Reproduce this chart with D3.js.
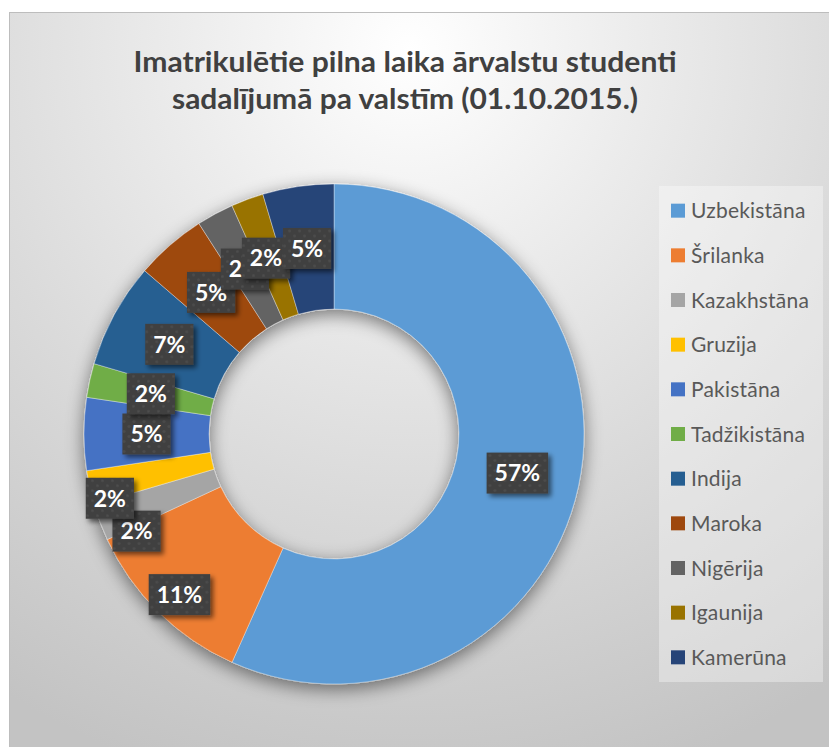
<!DOCTYPE html>
<html>
<head>
<meta charset="utf-8">
<script src="https://cdn.jsdelivr.net/npm/d3@7"></script>
<style>
  html, body { margin: 0; padding: 0; background: #fff; }
  svg { display: block; }
</style>
</head>
<body>
<svg id="area" width="829" height="747"></svg>
<script>
// countries in the order Excel draws them (clockwise from 12 o'clock)
const countries = ['Uzbekistāna', 'Šrilanka', 'Kazakhstāna', 'Gruzija', 'Pakistāna',
  'Tadžikistāna', 'Indija', 'Maroka', 'Nigērija', 'Igaunija', 'Kamerūna'];
// share of students, %
const shares = [56.8, 11.4, 2.4, 2.2, 4.7, 2.2, 6.8, 4.6, 2.4, 2.1, 4.6];
const colors = ['#5B9BD5', '#ED7D31', '#A5A5A5', '#FFC000', '#4472C4', '#70AD47',
  '#255E91', '#9E480E', '#636363', '#997300', '#264478'];
const titleLines = ['Imatrikulētie pilna laika ārvalstu studenti',
  'sadalījumā pa valstīm (01.10.2015.)'];

// labels Excel pushed away from the slice centre to avoid overlaps
const labelNudge = { 'Šrilanka': [-23, 27], 'Kazakhstāna': [-22, 31], 'Gruzija': [-41, 24], 'Igaunija': [-3, 0] };

const svg = d3.select('#area');
const W = 829;
const H = 747;
const cx = 334;
const cy = 434;
const outerR = 250;
const innerR = 125;

const defs = svg.append('defs');

const bg = defs.append('radialGradient')
  .attr('id', 'bg')
  .attr('gradientUnits', 'userSpaceOnUse')
  .attr('cx', 410).attr('cy', 50).attr('r', 760);
bg.append('stop').attr('offset', 0).attr('stop-color', '#ffffff');
bg.append('stop').attr('offset', 0.3).attr('stop-color', '#ececec');
bg.append('stop').attr('offset', 0.6).attr('stop-color', '#dadada');
bg.append('stop').attr('offset', 1).attr('stop-color', '#c3c3c3');

const ringShadow = defs.append('filter').attr('id', 'ringShadow')
  .attr('x', '-20%').attr('y', '-20%').attr('width', '140%').attr('height', '140%');
ringShadow.append('feGaussianBlur').attr('in', 'SourceAlpha').attr('stdDeviation', 9);
ringShadow.append('feOffset').attr('dx', 0).attr('dy', 5).attr('result', 'off');
ringShadow.append('feComponentTransfer').append('feFuncA').attr('type', 'linear').attr('slope', 0.5);
const rm = ringShadow.append('feMerge');
rm.append('feMergeNode');
rm.append('feMergeNode').attr('in', 'SourceGraphic');

const boxShadow = defs.append('filter').attr('id', 'boxShadow')
  .attr('x', '-30%').attr('y', '-30%').attr('width', '170%').attr('height', '170%');
boxShadow.append('feGaussianBlur').attr('in', 'SourceAlpha').attr('stdDeviation', 2.5);
boxShadow.append('feOffset').attr('dx', 3).attr('dy', 3);
boxShadow.append('feComponentTransfer').append('feFuncA').attr('type', 'linear').attr('slope', 0.55);
const bm = boxShadow.append('feMerge');
bm.append('feMergeNode');
bm.append('feMergeNode').attr('in', 'SourceGraphic');

const dots = defs.append('pattern').attr('id', 'dots')
  .attr('patternUnits', 'userSpaceOnUse').attr('width', 10).attr('height', 10);
dots.append('rect').attr('width', 10).attr('height', 10).attr('fill', '#404040');
dots.append('circle').attr('cx', 2.5).attr('cy', 2.5).attr('r', 1.3).attr('fill', '#4e4e4e');
dots.append('circle').attr('cx', 7.5).attr('cy', 7.5).attr('r', 1.3).attr('fill', '#4e4e4e');

// chart area
svg.append('rect')
  .attr('x', 9.5).attr('y', 12.5)
  .attr('width', W).attr('height', H)
  .attr('fill', 'url(#bg)')
  .attr('stroke', '#bdbdbd');

// title
svg.append('g')
  .attr('font-family', 'Lato, sans-serif')
  .attr('font-weight', 'bold')
  .attr('font-size', 28)
  .attr('fill', '#404040')
  .attr('text-anchor', 'middle')
  .selectAll('text')
  .data(titleLines)
  .join('text')
  .attr('x', 405)
  .attr('y', (d, i) => 72 + i * 37)
  .attr('textLength', (d, i) => (i === 0 ? 543 : 466))
  .attr('lengthAdjust', 'spacingAndGlyphs')
  .text((d) => d);

// donut
const pie = d3.pie().sort(null).value((d) => d)(shares);
const arc = d3.arc().innerRadius(innerR).outerRadius(outerR);

const ring = svg.append('g')
  .attr('transform', `translate(${cx},${cy})`);

ring.append('g')
  .attr('filter', 'url(#ringShadow)')
  .selectAll('path')
  .data(pie)
  .join('path')
  .attr('d', arc)
  .attr('fill', (d, i) => colors[i])
  .attr('stroke', 'rgba(255,255,255,0.45)')
  .attr('stroke-width', 0.8);

// data labels
const total = d3.sum(shares);
const labels = ring.append('g')
  .selectAll('g')
  .data(pie)
  .join('g')
  .attr('transform', (d, i) => {
    const [x, y] = arc.centroid(d);
    const [nx, ny] = labelNudge[countries[i]] || [0, 0];
    return `translate(${x + nx},${y + ny})`;
  });

labels.append('rect')
  .attr('filter', 'url(#boxShadow)')
  .attr('fill', 'url(#dots)');

labels.append('text')
  .attr('font-family', 'Lato, sans-serif')
  .attr('font-weight', 'bold')
  .attr('font-size', 23)
  .attr('fill', '#ffffff')
  .attr('text-anchor', 'middle')
  .attr('dy', '0.36em')
  .text((d) => `${Math.round((d.value / total) * 100)}%`);

labels.each(function () {
  const g = d3.select(this);
  const bb = g.select('text').node().getBBox();
  g.select('rect')
    .attr('x', -(bb.width + 16) / 2)
    .attr('y', -20.5)
    .attr('width', bb.width + 16)
    .attr('height', 41);
});

// legend
const legendX = 659;
const legendY = 186;
const row = d3.scaleBand()
  .domain(countries)
  .range([legendY + 1, 682 - 1])
  .paddingOuter(0.03);

svg.append('rect')
  .attr('x', legendX).attr('y', legendY)
  .attr('width', 164).attr('height', 496)
  .attr('fill', 'rgba(255,255,255,0.35)');

const item = svg.append('g')
  .selectAll('g')
  .data(countries)
  .join('g')
  .attr('transform', (d) => `translate(${legendX + 12},${row(d) + row.bandwidth() / 2})`);

item.append('rect')
  .attr('x', 0).attr('y', -7)
  .attr('width', 14).attr('height', 14)
  .attr('fill', (d, i) => colors[i]);

item.append('text')
  .attr('x', 20)
  .attr('dy', '0.36em')
  .attr('font-family', 'Lato, sans-serif')
  .attr('font-size', 21)
  .attr('letter-spacing', 0.2)
  .attr('fill', '#595959')
  .text((d) => d);
</script>
</body>
</html>
